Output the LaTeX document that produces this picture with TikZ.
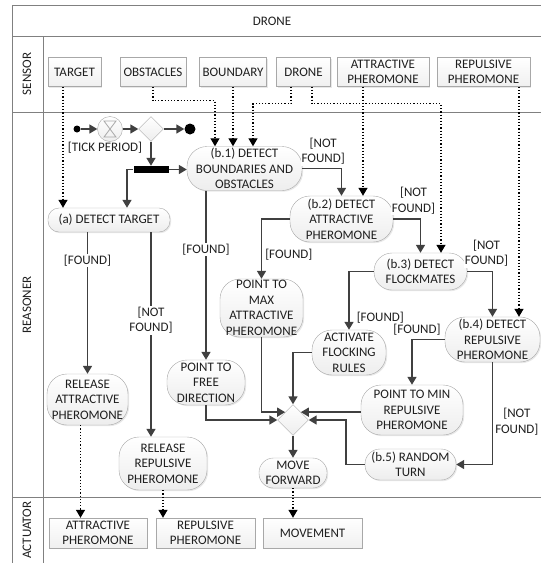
\documentclass[tikz,border=0pt]{standalone}
\usepackage{fontspec}
\setmainfont{Carlito}
\usepackage{tikz}
\usetikzlibrary{arrows.meta, shapes.geometric, shadows, calc}
\definecolor{flowGray}{gray}{0.25}
\definecolor{laneGray}{gray}{0.5}
\definecolor{boxGray}{gray}{0.66}
\definecolor{textBlack}{gray}{0.12}

\begin{document}
\begin{tikzpicture}[x=1pt, y=-1pt, >={Triangle[length=8pt, width=9pt]},
    every node/.style={font=\fontsize{13}{15.5}\selectfont, text=textBlack},
    lane/.style={draw=laneGray, line width=0.9pt},
    sensorbox/.style={draw=boxGray, top color=white, bottom color=gray!12, align=center, inner sep=1pt,
        minimum height=29pt, drop shadow={opacity=0.18, shadow xshift=1.2pt, shadow yshift=-1.2pt}},
    act/.style={draw=boxGray, rounded corners=20pt, top color=white, bottom color=gray!14, align=center, inner sep=1pt,
        drop shadow={opacity=0.18, shadow xshift=1.2pt, shadow yshift=-1.2pt}},
    ctrl/.style={draw=boxGray, top color=white, bottom color=gray!14, inner sep=0pt},
    flow/.style={->, draw=flowGray, line width=1.5pt},
    sig/.style={->, black, dotted, line width=1.2pt},
    guard/.style={fill=white, inner sep=1pt, align=center},
]
    \useasboundingbox (0,0) rectangle (541,563);

    % Swimlanes
    \draw[lane] (12,563) -- (12,5) -- (541,5);
    \draw[lane] (12,36) -- (541,36);
    \draw[lane] (43,36) -- (43,563);
    \draw[lane] (12,112) -- (541,112);
    \draw[lane] (12,497) -- (541,497);
    \node (l-drone) at (272,21) {DRONE};
    \node[rotate=90] (l-sensor) at (27,74) {SENSOR};
    \node[rotate=90] (l-reasoner) at (27,305) {REASONER};
    \node[rotate=90] (l-actuator) at (27,530) {ACTUATOR};

    % Sensors
    \node[sensorbox, minimum width=53pt] (s-target) at (74.5,72) {TARGET};
    \node[sensorbox, minimum width=66pt] (s-obst) at (153,72) {OBSTACLES};
    \node[sensorbox, minimum width=67pt] (s-bound) at (233,72) {BOUNDARY};
    \node[sensorbox, minimum width=54pt] (s-drone) at (303.5,72) {DRONE};
    \node[sensorbox, minimum width=92pt] (s-attr) at (383,72) {ATTRACTIVE\\PHEROMONE};
    \node[sensorbox, minimum width=93pt] (s-rep) at (483.5,72) {REPULSIVE\\PHEROMONE};

    % Tick loop
    \node[circle, fill=black, minimum size=7pt, inner sep=0pt] (init) at (77,129) {};
    \node[ctrl, circle, minimum size=25pt] (timer) at (110,129) {};
    \draw[boxGray, line width=0.8pt] ([shift={(-6,-8)}]timer.center) -- ++(12,0) -- ++(-12,16) -- ++(12,0) -- cycle;
    \node (tick) at (105,148) {[TICK PERIOD]};
    \node[ctrl, diamond, aspect=1, minimum size=25pt] (start) at (151,129) {};
    \node[circle, fill=black, minimum size=11pt, inner sep=0pt] (final) at (190,129) {};
    \node[fill=black, minimum width=35pt, minimum height=7pt, inner sep=0pt] (fork) at (151,169.5) {};

    % Activities
    \node[act, minimum width=122pt, minimum height=24pt, rounded corners=11pt] (a) at (109,220) {(a) DETECT TARGET};
    \node[act, minimum width=115pt, minimum height=44pt] (b1) at (244.5,168.5) {(b.1) DETECT\\BOUNDARIES AND\\OBSTACLES};
    \node[act, minimum width=103pt, minimum height=46pt] (b2) at (341.5,219) {(b.2) DETECT\\ATTRACTIVE\\PHEROMONE};
    \node[act, minimum width=93pt, minimum height=37pt, rounded corners=18pt] (b3) at (420.5,271.5) {(b.3) DETECT\\FLOCKMATES};
    \node[act, minimum width=95pt, minimum height=45pt] (b4) at (492.5,339.5) {(b.4) DETECT\\REPULSIVE\\PHEROMONE};
    \node[act, minimum width=91pt, minimum height=31pt, rounded corners=15pt] (b5) at (410.5,464.5) {(b.5) RANDOM\\TURN};
    \node[act, minimum width=83pt, minimum height=58pt] (maxA) at (261.5,308) {POINT TO\\MAX\\ATTRACTIVE\\PHEROMONE};
    \node[act, minimum width=74pt, minimum height=45pt] (flock) at (349,352.5) {ACTIVATE\\FLOCKING\\RULES};
    \node[act, minimum width=78pt, minimum height=45pt] (free) at (206,382.5) {POINT TO\\FREE\\DIRECTION};
    \node[act, minimum width=102pt, minimum height=50pt] (minR) at (412,410) {POINT TO MIN\\REPULSIVE\\PHEROMONE};
    \node[act, minimum width=81pt, minimum height=51pt] (relA) at (87.5,399.5) {RELEASE\\ATTRACTIVE\\PHEROMONE};
    \node[act, minimum width=88pt, minimum height=53pt] (relR) at (163,463.5) {RELEASE\\REPULSIVE\\PHEROMONE};
    \node[ctrl, diamond, aspect=1, minimum size=31pt] (merge) at (293,420) {};
    \node[act, minimum width=68pt, minimum height=30pt, rounded corners=14.5pt] (move) at (293,473) {MOVE\\FORWARD};

    % Actuators
    \node[sensorbox, minimum width=98pt, minimum height=30pt] (actA) at (98,533) {ATTRACTIVE\\PHEROMONE};
    \node[sensorbox, minimum width=99pt, minimum height=30pt] (actR) at (205.5,533) {REPULSIVE\\PHEROMONE};
    \node[sensorbox, minimum width=99pt, minimum height=30pt] (actM) at (312.5,533) {MOVEMENT};

    % Control flow
    \draw[flow] (init) -- (timer);
    \draw[flow] (timer) -- (start);
    \draw[flow] (start) -- (final);
    \draw[flow] (start) -- (fork);
    \draw[flow] (fork.east) -- (fork.east -| b1.west);
    \draw[flow] (fork.west) -| ([xshift=18pt]a.north);
    \draw[flow] (a.south -| relA.north) -- node[guard, pos=0.2] {[FOUND]} (relA.north);
    \draw[flow] ([xshift=42pt]a.south) -- node[guard, pos=0.43] {[NOT\\FOUND]} ([xshift=42pt]a.south |- relR.north);
    \draw[flow] (b1.south -| free.north) -- node[guard, pos=0.35] {[FOUND]} (free.north);
    \draw[flow] (b1.east) -| node[guard, anchor=south east, pos=0.5, xshift=5pt, yshift=2pt] {[NOT\\FOUND]} (b2.north);
    \draw[flow] (b2.west) -| node[guard, anchor=west, pos=0.8, xshift=2pt] {[FOUND]} (maxA.north);
    \draw[flow] (b2.east) -| node[guard, anchor=south, pos=0.5, xshift=-7pt, yshift=3pt] {[NOT\\FOUND]} (b3.north);
    \draw[flow] (b3.west) -| node[guard, anchor=west, pos=0.9, xshift=6pt] {[FOUND]} (flock.north);
    \draw[flow] (b3.east) -| node[guard, anchor=south, pos=0.5, xshift=-6pt, yshift=3pt] {[NOT\\FOUND]} (b4.north);
    \draw[flow] (b4.west) -| node[guard, anchor=south, pos=0.5, xshift=5pt, yshift=2pt] {[FOUND]} (minR.north);
    \draw[flow] (b4.south) |- node[guard, anchor=west, pos=0.29, xshift=1pt] {[NOT\\FOUND]} (b5.east);
    \draw[flow] (free.south) |- (merge.west);
    \draw[flow] (maxA.south) |- (merge.north west);
    \draw[flow] (flock.west) -| (merge.north);
    \draw[flow] (minR.west |- merge.north east) -- (merge.north east);
    \draw[flow] (b5.west) -- ++(-19,0) |- (merge.east);
    \draw[flow] (merge) -- (move);

    % Sensor and actuator signals
    \draw[sig] ([xshift=-11.5pt]s-target.south) -- ([xshift=-11.5pt]s-target.south |- a.north);
    \draw[sig] (s-obst.south) -- ++(0,14) -| ([xshift=-29.5pt]b1.north);
    \draw[sig] (s-bound.south) -- (s-bound.south |- b1.north);
    \draw[sig] ([xshift=-12.5pt]s-drone.south) -- ++(0,17) -| ([xshift=8.5pt]b1.north);
    \draw[sig] ([xshift=8.5pt]s-drone.south) -- ++(0,17) -| ([xshift=20.5pt]b3.north);
    \draw[sig] ([xshift=-20pt]s-attr.south) -- ([xshift=-20pt]s-attr.south |- b2.north);
    \draw[sig] ([xshift=35.5pt]s-rep.south) -- ([xshift=35.5pt]s-rep.south |- b4.north);
    \draw[sig] ([xshift=-7pt]relA.south) -- ([xshift=-7pt]relA.south |- actA.north);
    \draw[sig] (relR.south) -- (relR.south |- actR.north);
    \draw[sig] (move.south) -- (move.south |- actM.north);
\end{tikzpicture}
\end{document}
